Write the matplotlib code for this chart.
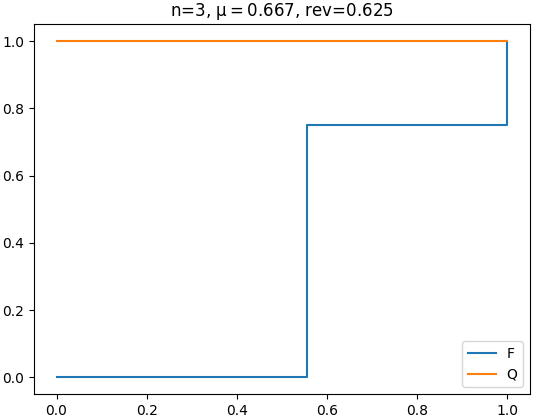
import matplotlib
matplotlib.use("Agg")
import matplotlib.pyplot as plt

# Data
f_x = [0.0, 0.556, 1.0]
f_y = [0.0, 0.75, 1.0]
q_x = [0.0, 1.0]
q_y = [1.0, 1.0]
title = r"n=3, $\mathrm{\mu}=0.667$, rev=0.625"

W, H = 539, 419
fig = plt.figure(figsize=(W / 100, H / 100), dpi=100)
ax = fig.add_axes([34 / W, (H - 394) / H, 496 / W, 369.5 / H])
ax.step(f_x, f_y, where="post", label="F")
ax.plot(q_x, q_y, label="Q")
ax.set_title(title)
ax.legend(loc="lower right")
fig.savefig("out.png", dpi=100)
